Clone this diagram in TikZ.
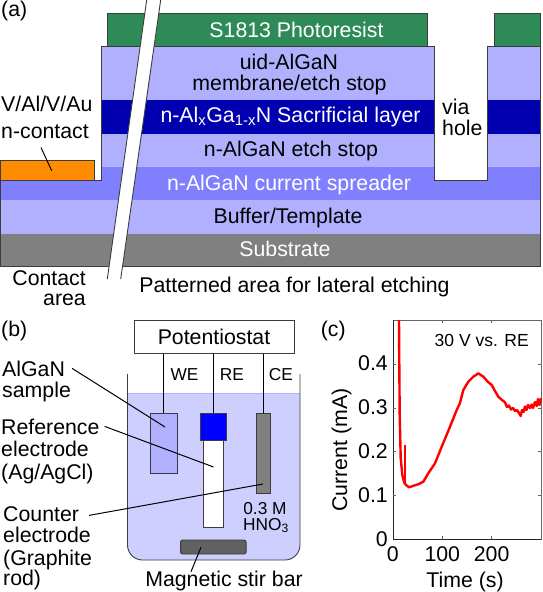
\documentclass[tikz,border=0pt]{standalone}
\usepackage{fontspec}
\setmainfont{Liberation Sans}
\usetikzlibrary{positioning}
\definecolor{layerlight}{RGB}{176,176,255}
\definecolor{layerdark}{RGB}{0,0,176}
\definecolor{layermid}{RGB}{128,128,255}
\definecolor{resistgreen}{RGB}{46,139,87}
\definecolor{contactorange}{RGB}{255,140,0}
\definecolor{liquidblue}{RGB}{207,207,255}
\definecolor{edgegrey}{RGB}{60,60,60}
\tikzset{
  edge/.style={draw=edgegrey, line width=0.9pt},
  leader/.style={black, line width=1pt},
  lab/.style={font=\fontsize{21.3}{22}\selectfont, inner sep=0pt, anchor=base},
  leftlab/.style={lab, anchor=base west},
  rightlab/.style={lab, anchor=base east},
  smalllab/.style={font=\fontsize{17.3}{17}\selectfont, inner sep=0pt, anchor=base},
  whitelab/.style={lab, text=white},
  ticklab/.style={font=\fontsize{21.3}{22}\selectfont, inner sep=0pt},
  cellpart/.style={edge, inner sep=0pt, minimum width=0pt},
  curve/.style={red, line width=2.4pt, line join=round},
  frame/.style={draw=black!60, line width=0.8pt},
}
\begin{document}
\begin{tikzpicture}[x=1pt,y=-1pt]
  \path[use as bounding box] (0,0) rectangle (542,592);

  % Layer stack with the via hole cut out.
  \fill[layerlight] (101,46.7) rectangle (434,167);
  \fill[layerlight] (487,46.7) rectangle (540.5,167);
  \fill[layerdark] (101,100) rectangle (434,133.5);
  \fill[layerdark] (487,100) rectangle (540.5,133.5);
  \fill[layermid] (101,167) rectangle (434,180);
  \fill[layermid] (487,167) rectangle (540.5,180);
  \fill[layermid] (0.7,180) rectangle (540.5,200);
  \fill[layerlight] (0.7,200) rectangle (540.5,233.5);
  \fill[gray] (0.7,233.5) rectangle (540.5,266.5);
  \draw[edge] (0.7,266.5) -- (0.7,180) -- (101,180) -- (101,46.7) -- (434,46.7)
    -- (434,180) -- (487,180) -- (487,46.7) -- (540.5,46.7) -- (540.5,266.5) -- cycle;
  \draw[edge, fill=resistgreen] (107,46.7) rectangle (427,13.5);
  \draw[edge, fill=resistgreen] (494,46.7) rectangle (540.5,13.5);
  \draw[edge, fill=contactorange] (0.7,180) rectangle (94,160);

  % Break in the lateral scale.
  \fill[white] (146.7,0) -- (160.7,0) -- (120.7,279) -- (107.3,279) -- cycle;
  \draw[edge] (146.7,0) -- (107.3,279);
  \draw[edge] (160.7,0) -- (120.7,279);

  \node[leftlab] (panela) at (1,16) {(a)};
  \node[whitelab] (resist) at (296.5,37.3) {S1813 Photoresist};
  \node[lab] (uid) at (289,69.3) {uid-AlGaN};
  \node[lab] (membrane) at (289.5,90.7) {membrane/etch stop};
  \node[whitelab] (sacrificial) at (290.5,122)
    {n-Al\textsubscript{x}Ga\textsubscript{1-x}N Sacrificial layer};
  \node[lab] (etchstop) at (291,156.7) {n-AlGaN etch stop};
  \node[whitelab] (spreader) at (289,190.7) {n-AlGaN current spreader};
  \node[lab] (buffer) at (288,223.3) {Buffer/Template};
  \node[whitelab] (substrate) at (285,256.7) {Substrate};
  \node[leftlab] (via) at (442,114) {via};
  \node[leftlab] (hole) at (442,135.7) {hole};
  \node[leftlab] (metal) at (1,111.7) {V/Al/V/Au};
  \node[leftlab] (ncontact) at (1,138.3) {n-contact};
  \coordinate (contacttip) at (51.7,170.7);
  \draw[leader] ([xshift=-4pt,yshift=-16pt]ncontact.center) -- (contacttip);
  \node[rightlab] (contactarea) at (86,285.5) {Contact};
  \node[rightlab] (arealab) at (86,305) {area};
  \node[lab] (patterned) at (294.5,292) {Patterned area for lateral etching};

  % Electrochemical cell.
  \node[leftlab] (panelb) at (1,336.7) {(b)};
  \fill[liquidblue] (127.5,393) -- (300,393) -- (300,545)
    arc[start angle=0,end angle=90,radius=15] -- (142.5,560)
    arc[start angle=90,end angle=180,radius=15] -- cycle;
  \draw[layerlight, line width=1pt] (127.5,393) -- (300,393);
  \draw[edge] (127.5,374) -- (127.5,545)
    arc[start angle=180,end angle=90,radius=15] -- (285,560)
    arc[start angle=90,end angle=0,radius=15] -- (300,374);
  \node[draw=edgegrey, line width=0.9pt, fill=white, minimum width=160pt, minimum height=33.5pt,
        inner sep=0pt, font=\fontsize{21.3}{22}\selectfont] (pot) at (214,337) {Potentiostat};
  \node[cellpart, fill=layerlight, minimum width=27pt, minimum height=60pt] (sample) at (163.5,443.5) {};
  \node[cellpart, fill=white, minimum width=19.5pt, minimum height=87pt] (tube) at (213.5,483.5) {};
  \node[cellpart, fill=blue, minimum width=25.5pt, minimum height=27pt] (cap) at (213.5,427) {};
  \node[cellpart, fill=gray, minimum width=13.5pt, minimum height=80pt] (rod) at (263.2,453.5) {};
  \node[cellpart, fill=black!62, minimum width=65.5pt, minimum height=14pt, rounded corners=2pt] (stir) at (213.3,547) {};
  \draw[leader] (sample.north) -- (sample.north |- pot.south);
  \draw[leader] (cap.north) -- (cap.north |- pot.south);
  \draw[leader] (rod.north) -- (rod.north |- pot.south);
  \node[smalllab] (we) at (184.5,380) {WE};
  \node[smalllab] (re) at (232,380) {RE};
  \node[smalllab] (ce) at (281,380) {CE};
  \node[smalllab] (acid) at (265,514) {0.3 M};
  \node[smalllab] (hno) at (266,530) {HNO\textsubscript{3}};
  \node[leftlab] (algan) at (2,376) {AlGaN};
  \node[leftlab] (samplelab) at (2,397.3) {sample};
  \node[leftlab] (reference) at (1,434) {Reference};
  \node[leftlab] (electrodea) at (1,456.7) {electrode};
  \node[leftlab] (agcl) at (1,479.3) {(Ag/AgCl)};
  \node[leftlab] (counter) at (3,521.7) {Counter};
  \node[leftlab] (electrodeb) at (3,542.7) {electrode};
  \node[leftlab] (graphite) at (3,565) {(Graphite};
  \node[leftlab] (rodlab) at (3,585) {rod)};
  \node[lab] (magnetic) at (224,586.7) {Magnetic stir bar};
  \coordinate (sampletip) at (165,427);
  \coordinate (reftip) at (213.5,467);
  \coordinate (countertip) at (263,484);
  \coordinate (stirtip) at (201,547.3);
  \draw[leader] ([xshift=7pt]algan.east) -- (sampletip);
  \draw[leader] ([xshift=5pt]reference.east) -- (reftip);
  \draw[leader] ([xshift=10pt,yshift=-1pt]counter.east) -- (countertip);
  \draw[leader] ([xshift=-33pt,yshift=9.5pt]magnetic.center) -- (stirtip);

  % Current trace.
  \node[leftlab] (panelc) at (320.7,336.7) {(c)};
  \coordinate (origin) at (393,539);
  \coordinate (corner) at (541,320);
  \draw[frame] (origin) rectangle (corner);
  \draw[black!85, line width=0.9pt] (393,320) -- (origin) -- (541,539);
  \foreach \tx in {442.3,491.6}{
    \draw[frame] (\tx,539) -- (\tx,536);
    \draw[frame] (\tx,320) -- (\tx,323);
  }
  \foreach \ty in {364,408,451.7,495.5}{
    \draw[frame] (393,\ty) -- (396,\ty);
    \draw[frame] (541,\ty) -- (538,\ty);
  }
  \draw[curve] (399,320) -- (399.3,365) -- (399.7,415) -- (400.7,458) -- (402.3,475)
    -- (404.3,482.7) -- (406,485) -- (409,487.3) -- (415,485.3) -- (419,484) -- (423.3,481.7) -- (428.3,473.3)
    -- (435,463.3) -- (441.7,446.7) -- (450,426.7) -- (456.7,410) -- (460,403)
    -- (463.3,390) -- (468.3,381.7) -- (473.3,376.7) -- (476,375) -- (478.3,373.3) -- (483.3,376.7)
    -- (488,382) -- (491.7,385) -- (495,391) -- (498.3,396.7) -- (502,400) -- (505,402.3) -- (507,407) -- (509,405.5) -- (511,409.5)
    -- (513,408) -- (515,411) -- (517,410) -- (519,413) -- (520.7,416) -- (522,410) -- (523.5,412)
    -- (525,406.5) -- (526.5,410) -- (528,405) -- (530,408) -- (531.7,404.5) -- (533,408)
    -- (535,402) -- (536.7,406) -- (538,399) -- (539.5,405) -- (541,398.3);
  \draw[red, line width=1.7pt] (405.3,445) -- (405.3,483);
  \node[font=\fontsize{17.5}{18}\selectfont, inner sep=0pt] (bias) at (481.7,340.7) {30 V vs. RE};
  \node[ticklab, anchor=east] (ya) at (388,363.5) {0.4};
  \node[ticklab, anchor=east] (yb) at (388,407.5) {0.3};
  \node[ticklab, anchor=east] (yc) at (388,451.2) {0.2};
  \node[ticklab, anchor=east] (yd) at (388,495) {0.1};
  \node[ticklab, anchor=east] (ye) at (388,539) {0};
  \node[ticklab] (xa) at (392.7,554.5) {0};
  \node[ticklab] (xb) at (442.3,554.5) {100};
  \node[ticklab] (xc) at (491.6,554.5) {200};
  \node[lab] (timelab) at (465,587) {Time (s)};
  \node[ticklab, rotate=90] (currentlab) at (341.7,450) {Current (mA)};
\end{tikzpicture}
\end{document}
